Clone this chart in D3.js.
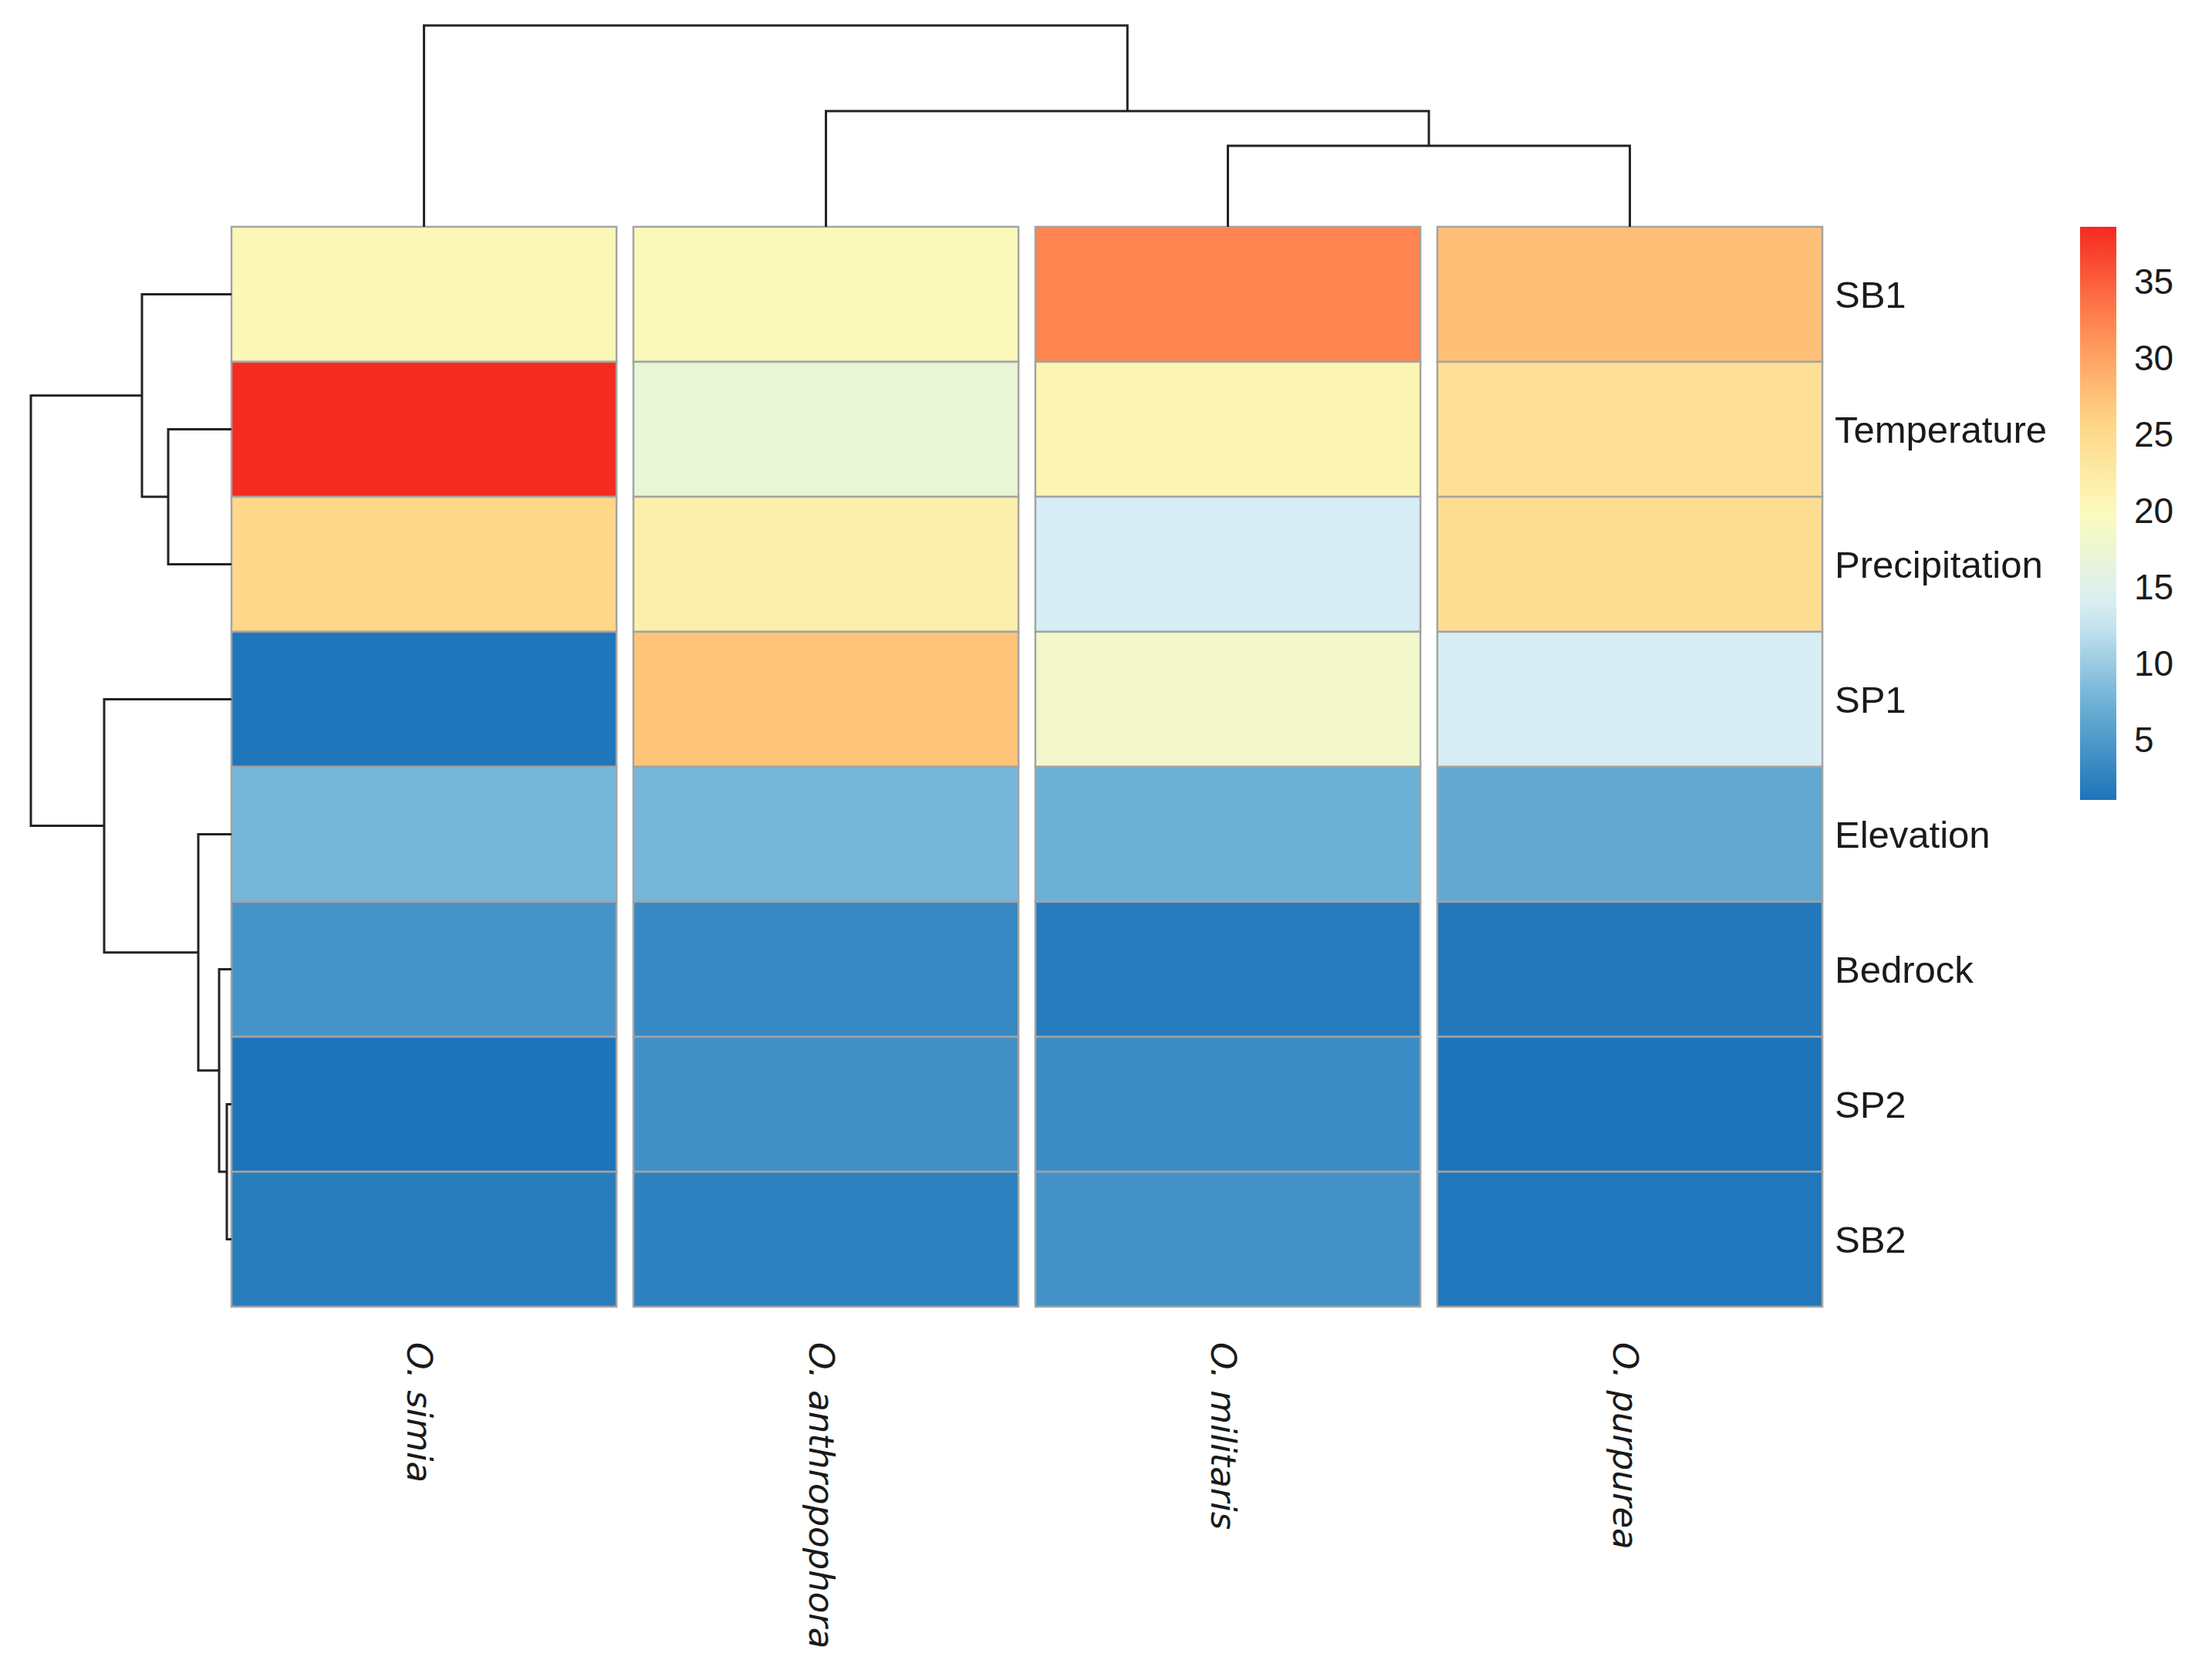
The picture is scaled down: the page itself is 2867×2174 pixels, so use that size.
<!DOCTYPE html>
<html>
<head>
<meta charset="utf-8">
<script src="https://cdn.jsdelivr.net/npm/d3@7"></script>
<style>
  html, body { margin: 0; padding: 0; background: #ffffff; }
  svg { display: block; }
</style>
</head>
<body>
<svg id="chart" width="2867" height="2174"></svg>
<script>
// ---------------- data ----------------
const rowLabels = ["SB1", "Temperature", "Precipitation", "SP1", "Elevation", "Bedrock", "SP2", "SB2"];
const colLabels = ["O. simia", "O. anthropophora", "O. militaris", "O. purpurea"];

// values per column (in row order above)
const simia          = [20.5, 38.6, 25.5, 1.3, 7.9, 4.3, 1.1, 2.0];
const anthropophora  = [20.2, 16.9, 21.7, 27.3, 7.9, 3.2, 4.0, 2.5];
const militaris      = [32.4, 21.0, 13.5, 18.3, 7.3, 1.8, 3.5, 4.1];
const purpurea       = [27.6, 24.0, 24.5, 13.7, 6.5, 1.5, 1.1, 1.4];
const columnValues = [simia, anthropophora, militaris, purpurea];

const legendTicks = [5, 10, 15, 20, 25, 30, 35];
const valueRange = [1.06, 38.6];

// clustering trees (merge heights)
const rowTree = {h: 52.0, children: [
  {h: 23.2, children: [
    {name: "SB1"},
    {h: 16.4, children: [{name: "Temperature"}, {name: "Precipitation"}]}
  ]},
  {h: 33.0, children: [
    {name: "SP1"},
    {h: 8.6, children: [
      {name: "Elevation"},
      {h: 3.2, children: [
        {name: "Bedrock"},
        {h: 1.2, children: [{name: "SP2"}, {name: "SB2"}]}
      ]}
    ]}
  ]}
]};
const colTree = {h: 52.2, children: [
  {name: "O. simia"},
  {h: 30.0, children: [
    {name: "O. anthropophora"},
    {h: 21.0, children: [{name: "O. militaris"}, {name: "O. purpurea"}]}
  ]}
]};

// ---------------- style ----------------
const palette = ["#1c74b9", "#6cb0d5", "#d7eef5", "#fbfbbd", "#fed383", "#ff8550", "#f52a20"];

// ---------------- drawing ----------------
const svg = d3.select("#chart");
svg.append("rect").attr("width", 2867).attr("height", 2174).attr("fill", "#ffffff");

const x = d3.scaleBand().domain(colLabels).range([300, 2362]).paddingInner(0.042);
const y = d3.scaleBand().domain(rowLabels).range([294, 1694]);

const stops = d3.range(palette.length).map(i => valueRange[0] + i * (valueRange[1] - valueRange[0]) / (palette.length - 1));
const color = d3.scaleLinear().domain(stops).range(palette).interpolate(d3.interpolateRgb).clamp(true);

// cells
const cells = [];
colLabels.forEach((c, ci) => rowLabels.forEach((r, ri) => cells.push({c, r, v: columnValues[ci][ri]})));
svg.append("g").selectAll("rect").data(cells).join("rect")
  .attr("x", d => x(d.c))
  .attr("y", d => y(d.r))
  .attr("width", x.bandwidth())
  .attr("height", y.bandwidth())
  .attr("fill", d => color(d.v))
  .attr("stroke", "#a3a3a3")
  .attr("stroke-width", 2.5);

// row labels
svg.append("g").selectAll("text").data(rowLabels).join("text")
  .attr("x", 2378)
  .attr("y", d => y(d) + y.bandwidth() / 2)
  .attr("dominant-baseline", "central")
  .attr("font-family", "'Liberation Sans', Arial, sans-serif")
  .attr("font-size", 49)
  .attr("fill", "#1a1a1a")
  .text(d => d);

// column labels (rotated)
svg.append("g").selectAll("text").data(colLabels).join("text")
  .attr("transform", d => `translate(${x(d) + x.bandwidth() / 2 - 6},1740) rotate(90)`)
  .attr("dominant-baseline", "central")
  .attr("font-family", "'DejaVu Sans', Verdana, sans-serif")
  .attr("font-style", "italic")
  .attr("font-size", 45)
  .attr("fill", "#1a1a1a")
  .text(d => d);

// dendrograms
function layoutTree(root, leafPos) {
  const h = d3.hierarchy(root);
  h.eachAfter(n => {
    if (!n.children) { n.pos = leafPos(n.data.name); n.ht = 0; }
    else { n.pos = d3.mean(n.children, c => c.pos); n.ht = n.data.h; }
  });
  return h;
}
const rowH = layoutTree(rowTree, name => y(name) + y.bandwidth() / 2);
const hx = d3.scaleLinear().domain([0, rowTree.h]).range([300, 40]);
svg.append("g").selectAll("path").data(rowH.descendants().filter(n => n.children)).join("path")
  .attr("fill", "none").attr("stroke", "#222").attr("stroke-width", 3)
  .attr("d", n => {
    const [a, b] = n.children;
    return `M${hx(a.ht)},${a.pos}H${hx(n.ht)}V${b.pos}H${hx(b.ht)}`;
  });

const colH = layoutTree(colTree, name => x(name) + x.bandwidth() / 2);
const vy = d3.scaleLinear().domain([0, colTree.h]).range([294, 33]);
svg.append("g").selectAll("path").data(colH.descendants().filter(n => n.children)).join("path")
  .attr("fill", "none").attr("stroke", "#222").attr("stroke-width", 3)
  .attr("d", n => {
    const [a, b] = n.children;
    return `M${a.pos},${vy(a.ht)}V${vy(n.ht)}H${b.pos}V${vy(b.ht)}`;
  });

// legend colour bar
const ly = d3.scaleLinear().domain(valueRange).range([1037, 294]);
const defs = svg.append("defs");
const grad = defs.append("linearGradient").attr("id", "lg")
  .attr("x1", 0).attr("y1", 1).attr("x2", 0).attr("y2", 0);
d3.range(0, 1.0001, 0.05).forEach(t => {
  grad.append("stop").attr("offset", t)
    .attr("stop-color", color(valueRange[0] + t * (valueRange[1] - valueRange[0])));
});
svg.append("rect")
  .attr("x", 2696).attr("y", ly(valueRange[1]))
  .attr("width", 47).attr("height", ly(valueRange[0]) - ly(valueRange[1]))
  .attr("fill", "url(#lg)");
svg.append("g").selectAll("text").data(legendTicks).join("text")
  .attr("x", 2766)
  .attr("y", d => ly(d))
  .attr("dominant-baseline", "central")
  .attr("font-family", "'Liberation Sans', Arial, sans-serif")
  .attr("font-size", 46)
  .attr("fill", "#1a1a1a")
  .text(d => d);
</script>
</body>
</html>
